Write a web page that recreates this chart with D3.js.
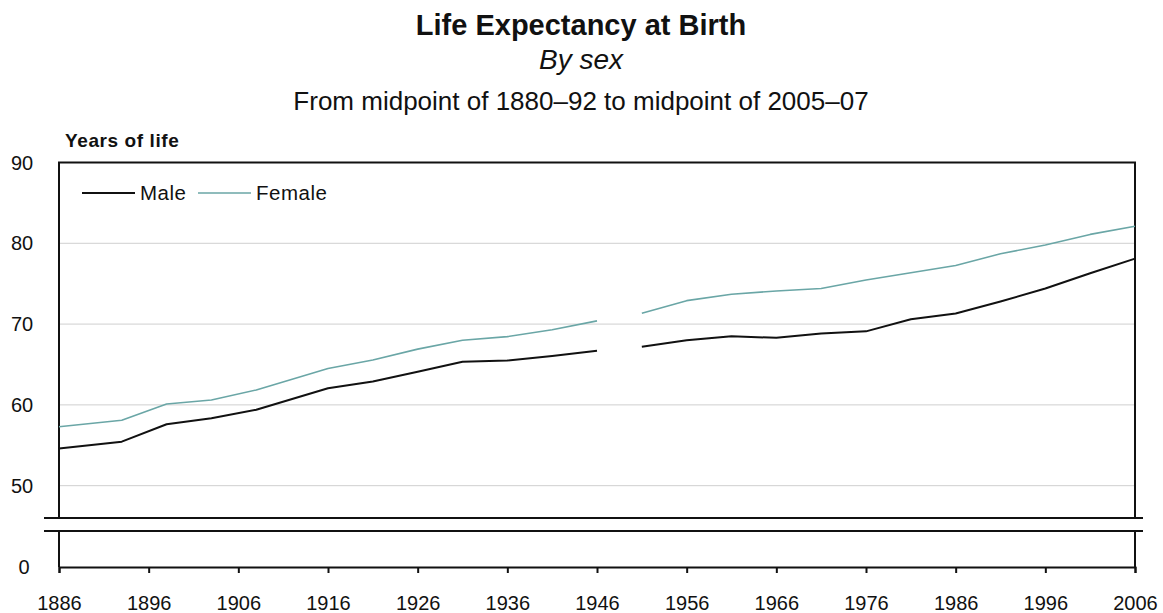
<!DOCTYPE html>
<html>
<head>
<meta charset="utf-8">
<script src="https://cdn.jsdelivr.net/npm/d3@7"></script>
<style>
  body { margin: 0; background: #fff; }
  text { font-family: "Liberation Sans", Arial, sans-serif; fill: #111; }
</style>
</head>
<body>
<svg id="chart"></svg>
<script>
// years are midpoints of the life-table periods; null marks the break in the series
var years  = [1886, 1893, 1898, 1903, 1908, 1916, 1921, 1926, 1931, 1936, 1941, 1946, 1948,
              1951, 1956, 1961, 1966, 1971, 1976, 1981, 1986, 1991, 1996, 2001, 2006];
var male   = [54.6, 55.45, 57.6, 58.35, 59.4, 62.05, 62.9, 64.1, 65.35, 65.5, 66.05, 66.7, null,
              67.2, 68.0, 68.5, 68.3, 68.85, 69.1, 70.6, 71.3, 72.8, 74.4, 76.3, 78.1];
var female = [57.3, 58.1, 60.1, 60.6, 61.85, 64.5, 65.55, 66.9, 68.0, 68.45, 69.3, 70.4, null,
              71.35, 72.9, 73.7, 74.1, 74.4, 75.45, 76.35, 77.25, 78.7, 79.8, 81.1, 82.1];
var xTicks = [1886, 1896, 1906, 1916, 1926, 1936, 1946, 1956, 1966, 1976, 1986, 1996, 2006];
var yTicks = [50, 60, 70, 80, 90];
var seriesNames = ["Male", "Female"];
var seriesColors = ["#111111", "#6aa6a6"];

var svgWidth = 1163;
var svgHeight = 613;
var margin = { top: 162.5, right: 28, bottom: 46, left: 59 };
var width = svgWidth - margin.left - margin.right;
var upperBottom = 518;      // bottom edge of the top panel (y = 46)
var lowerTop = 531;         // top edge of the small zero panel
var zeroY = svgHeight - margin.bottom;

var svg = d3.select("#chart")
    .attr("width", svgWidth)
    .attr("height", svgHeight);

var x = d3.scaleLinear()
    .domain([1886, 2006])
    .range([margin.left, margin.left + width]);

var y = d3.scaleLinear()
    .domain([46, 90])
    .range([upperBottom, margin.top]);

var y0 = d3.scaleLinear()
    .domain([0, 4.5])
    .range([zeroY, lowerTop]);

// titles
svg.append("text")
    .attr("x", 581).attr("y", 35)
    .attr("text-anchor", "middle")
    .attr("font-size", 29).attr("font-weight", "bold")
    .text("Life Expectancy at Birth");

svg.append("text")
    .attr("x", 581).attr("y", 69)
    .attr("text-anchor", "middle")
    .attr("font-size", 28).attr("font-style", "italic")
    .text("By sex");

svg.append("text")
    .attr("x", 581).attr("y", 110)
    .attr("text-anchor", "middle")
    .attr("font-size", 26)
    .text("From midpoint of 1880\u201392 to midpoint of 2005\u201307");

svg.append("text")
    .attr("x", 65).attr("y", 147)
    .attr("font-size", 19).attr("font-weight", "bold")
    .attr("letter-spacing", 0.6)
    .text("Years of life");

// gridlines
svg.append("g")
    .selectAll("line")
    .data(yTicks.filter(function(d) { return d < 90; }))
    .join("line")
    .attr("x1", x(1886)).attr("x2", x(2006))
    .attr("y1", function(d) { return y(d); })
    .attr("y2", function(d) { return y(d); })
    .attr("stroke", "#cfcfcf")
    .attr("stroke-width", 1);

// y tick labels
svg.append("g")
    .selectAll("text")
    .data(yTicks)
    .join("text")
    .attr("x", 22)
    .attr("y", function(d) { return y(d); })
    .attr("dy", "0.35em")
    .attr("text-anchor", "middle")
    .attr("font-size", 20)
    .text(function(d) { return d; });

svg.append("text")
    .attr("x", 24)
    .attr("y", y0(0))
    .attr("dy", "0.35em")
    .attr("text-anchor", "middle")
    .attr("font-size", 20)
    .text(0);

// frame of the upper panel
var frame = svg.append("g")
    .attr("fill", "none")
    .attr("stroke", "#111")
    .attr("stroke-width", 2);

frame.append("path")
    .attr("d", d3.line()([[x(1886), upperBottom], [x(1886), y(90)], [x(2006), y(90)], [x(2006), upperBottom]]));

// axis break lines
frame.append("line")
    .attr("x1", x(1886) - 15).attr("x2", x(2006) + 8)
    .attr("y1", upperBottom).attr("y2", upperBottom);
frame.append("line")
    .attr("x1", x(1886) - 15).attr("x2", x(2006) + 8)
    .attr("y1", lowerTop).attr("y2", lowerTop);

// lower panel sides
frame.append("line")
    .attr("x1", x(1886)).attr("x2", x(1886))
    .attr("y1", lowerTop).attr("y2", y0(0));
frame.append("line")
    .attr("x1", x(2006)).attr("x2", x(2006))
    .attr("y1", lowerTop).attr("y2", y0(0));

// x axis
var xAxis = svg.append("g")
    .attr("transform", "translate(0," + y0(0) + ")")
    .call(d3.axisBottom(x)
        .tickValues(xTicks)
        .tickFormat(d3.format("d"))
        .tickSize(6)
        .tickPadding(23));

xAxis.select(".domain").attr("stroke", "#111").attr("stroke-width", 2);
xAxis.selectAll(".tick line").attr("stroke", "#111").attr("stroke-width", 2);
xAxis.selectAll(".tick text")
    .attr("font-family", "Liberation Sans, Arial, sans-serif")
    .attr("font-size", 20)
    .attr("fill", "#111");

// series lines
var line = d3.line()
    .defined(function(d) { return d[1] != null; })
    .x(function(d) { return x(d[0]); })
    .y(function(d) { return y(d[1]); });

[male, female].forEach(function(values, i) {
    svg.append("path")
        .datum(years.map(function(yr, j) { return [yr, values[j]]; }))
        .attr("fill", "none")
        .attr("stroke", seriesColors[i])
        .attr("stroke-width", i === 0 ? 2 : 1.6)
        .attr("stroke-linejoin", "round")
        .attr("d", line);
});

// legend
var legend = svg.append("g");
var legendX = [82, 198];
seriesNames.forEach(function(name, i) {
    legend.append("line")
        .attr("x1", legendX[i]).attr("x2", legendX[i] + 53)
        .attr("y1", 193).attr("y2", 193)
        .attr("stroke", seriesColors[i])
        .attr("stroke-width", i === 0 ? 2 : 1.6);
    legend.append("text")
        .attr("x", legendX[i] + 58)
        .attr("y", 193)
        .attr("dy", "0.35em")
        .attr("font-size", 20.5)
        .attr("letter-spacing", 0.5)
        .text(name);
});
</script>
</body>
</html>
